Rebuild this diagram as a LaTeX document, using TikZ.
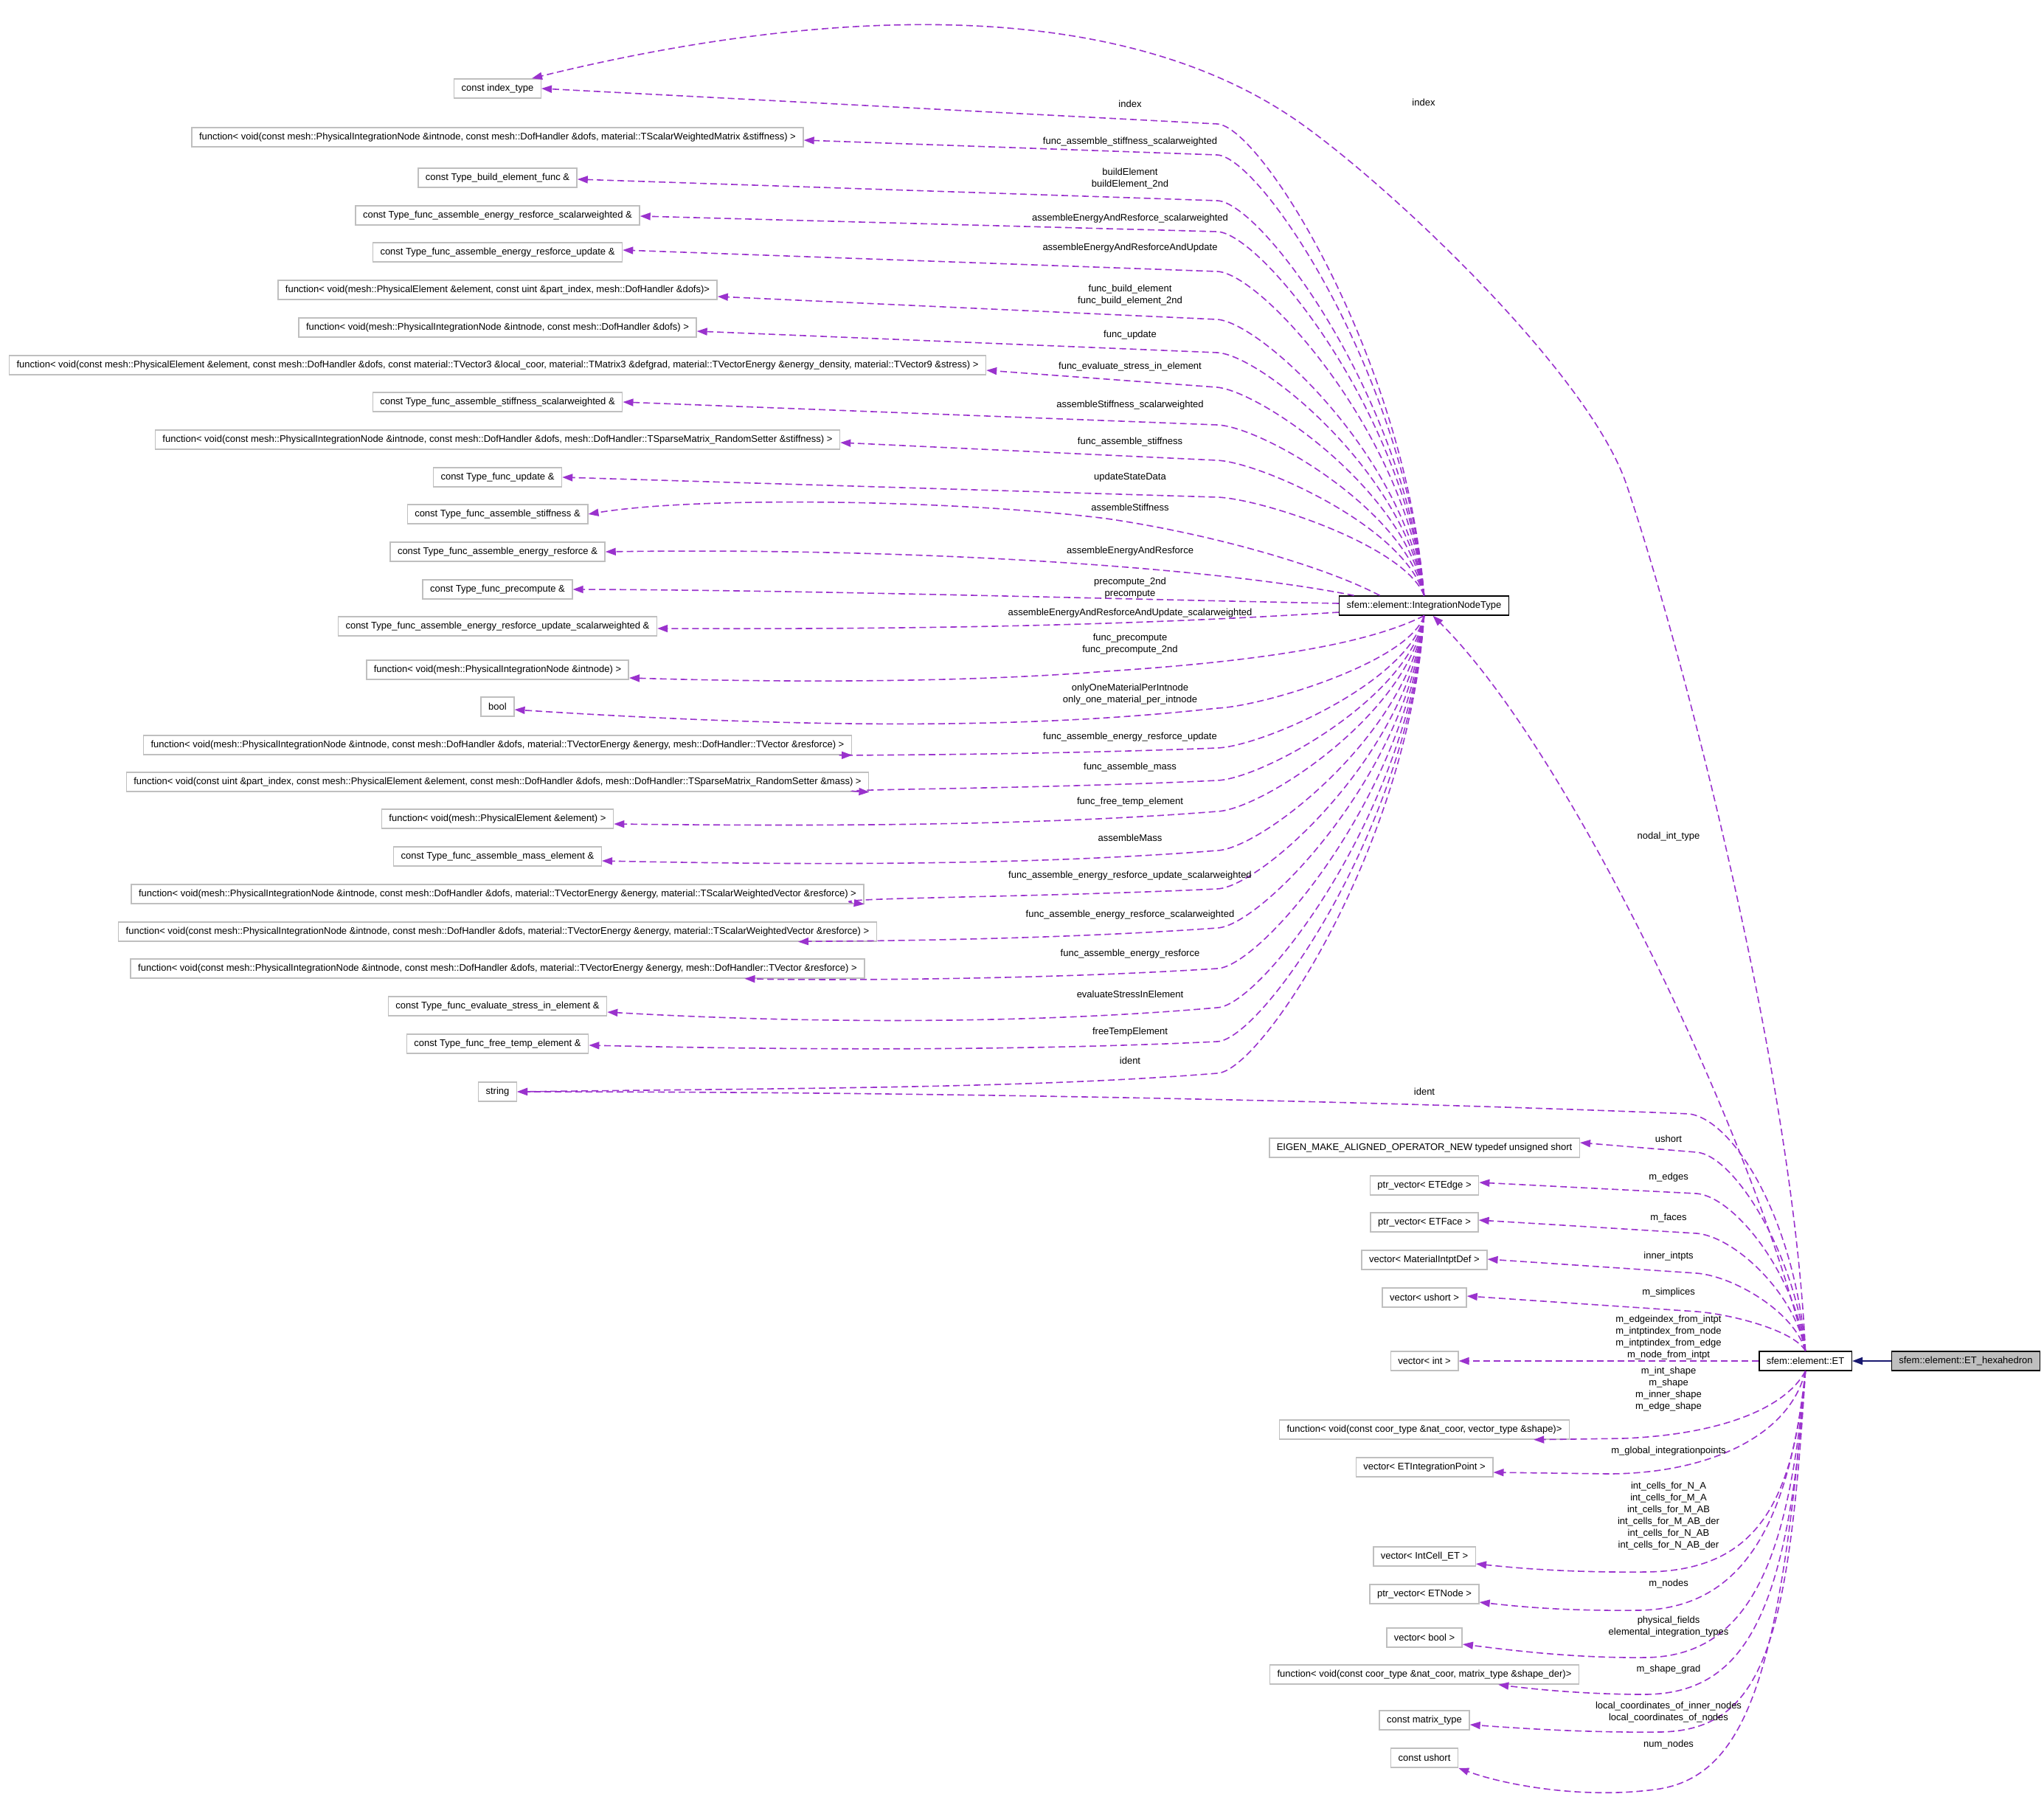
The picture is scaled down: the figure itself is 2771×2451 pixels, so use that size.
\documentclass[tikz,border=0pt]{standalone}
\usepackage{fontspec}
\setmainfont{Liberation Sans}
\usetikzlibrary{arrows.meta}
\definecolor{usecol}{HTML}{9A32CD}
\definecolor{boxgray}{HTML}{BFBFBF}
\definecolor{basegray}{HTML}{BFBFBF}
\definecolor{inhcol}{HTML}{191970}
\tikzset{
    typebox/.style={draw=boxgray, line width=1.5pt, fill=white, minimum height=26pt, inner xsep=10pt, inner ysep=0pt},
    classbox/.style={typebox, draw=black},
    basebox/.style={classbox, fill=basegray},
    member/.style={draw=usecol, line width=1.6pt, dash pattern=on 9pt off 5pt, -{Triangle[length=14pt,width=10pt]}},
    inheritarrow/.style={draw=inhcol, line width=2pt, -{Triangle[length=14pt,width=10pt]}},
    elabel/.style={inner sep=0pt, align=center}
}
\begin{document}
\begin{tikzpicture}[x=1pt,y=-1pt,font=\fontsize{13}{16}\selectfont]
            \useasboundingbox (0,0) rectangle (2771,2451);
            % classes
            \node[classbox] (int) at (1930.5,821) {sfem::element::IntegrationNodeType};
            \node[classbox] (et) at (2447.5,1845) {sfem::element::ET};
            \node[basebox] (hex) at (2665,1845) {sfem::element::ET\_hexahedron};
            % member types of IntegrationNodeType
            \node[typebox] (idx) at (674.5,120) {const index\_type};
            \node[typebox] (fSWM) at (674.5,186) {function< void(const mesh::PhysicalIntegrationNode \&intnode, const mesh::DofHandler \&dofs, material::TScalarWeightedMatrix \&stiffness) >};
            \node[typebox] (tBuild) at (674.5,241) {const Type\_build\_element\_func \&};
            \node[typebox] (tERsw) at (674.5,292) {const Type\_func\_assemble\_energy\_resforce\_scalarweighted \&};
            \node[typebox] (tERup) at (674.5,342) {const Type\_func\_assemble\_energy\_resforce\_update \&};
            \node[typebox] (fBuild) at (674.5,393) {function< void(mesh::PhysicalElement \&element, const uint \&part\_index, mesh::DofHandler \&dofs)>};
            \node[typebox] (fUpd) at (674.5,444) {function< void(mesh::PhysicalIntegrationNode \&intnode, const mesh::DofHandler \&dofs) >};
            \node[typebox] (fEval) at (674.5,495) {function< void(const mesh::PhysicalElement \&element, const mesh::DofHandler \&dofs, const material::TVector3 \&local\_coor, material::TMatrix3 \&defgrad, material::TVectorEnergy \&energy\_density, material::TVector9 \&stress) >};
            \node[typebox] (tKsw) at (674.5,545) {const Type\_func\_assemble\_stiffness\_scalarweighted \&};
            \node[typebox] (fK) at (674.5,596) {function< void(const mesh::PhysicalIntegrationNode \&intnode, const mesh::DofHandler \&dofs, mesh::DofHandler::TSparseMatrix\_RandomSetter \&stiffness) >};
            \node[typebox] (tUpd) at (674.5,647) {const Type\_func\_update \&};
            \node[typebox] (tK) at (674.5,697) {const Type\_func\_assemble\_stiffness \&};
            \node[typebox] (tER) at (674.5,748) {const Type\_func\_assemble\_energy\_resforce \&};
            \node[typebox] (tPre) at (674.5,799) {const Type\_func\_precompute \&};
            \node[typebox] (tERupsw) at (674.5,849) {const Type\_func\_assemble\_energy\_resforce\_update\_scalarweighted \&};
            \node[typebox] (fPre) at (674.5,908) {function< void(mesh::PhysicalIntegrationNode \&intnode) >};
            \node[typebox] (bool) at (674.5,958) {bool};
            \node[typebox] (fERup) at (674.5,1010) {function< void(mesh::PhysicalIntegrationNode \&intnode, const mesh::DofHandler \&dofs, material::TVectorEnergy \&energy, mesh::DofHandler::TVector \&resforce) >};
            \node[typebox] (fMass) at (674.5,1060) {function< void(const uint \&part\_index, const mesh::PhysicalElement \&element, const mesh::DofHandler \&dofs, mesh::DofHandler::TSparseMatrix\_RandomSetter \&mass) >};
            \node[typebox] (fFree) at (674.5,1110) {function< void(mesh::PhysicalElement \&element) >};
            \node[typebox] (tMass) at (674.5,1161) {const Type\_func\_assemble\_mass\_element \&};
            \node[typebox] (fERupsw) at (674.5,1212) {function< void(mesh::PhysicalIntegrationNode \&intnode, const mesh::DofHandler \&dofs, material::TVectorEnergy \&energy, material::TScalarWeightedVector \&resforce) >};
            \node[typebox] (fERsw) at (674.5,1263) {function< void(const mesh::PhysicalIntegrationNode \&intnode, const mesh::DofHandler \&dofs, material::TVectorEnergy \&energy, material::TScalarWeightedVector \&resforce) >};
            \node[typebox] (fER) at (674.5,1313) {function< void(const mesh::PhysicalIntegrationNode \&intnode, const mesh::DofHandler \&dofs, material::TVectorEnergy \&energy, mesh::DofHandler::TVector \&resforce) >};
            \node[typebox] (tEval) at (674.5,1364) {const Type\_func\_evaluate\_stress\_in\_element \&};
            \node[typebox] (tFree) at (674.5,1415) {const Type\_func\_free\_temp\_element \&};
            \node[typebox] (str) at (674.5,1480) {string};
            % member types of ET
            \node[typebox] (eigen) at (1931,1556) {EIGEN\_MAKE\_ALIGNED\_OPERATOR\_NEW typedef unsigned short};
            \node[typebox] (pvEdge) at (1931,1607) {ptr\_vector< ETEdge >};
            \node[typebox] (pvFace) at (1931,1657) {ptr\_vector< ETFace >};
            \node[typebox] (vMat) at (1931,1708) {vector< MaterialIntptDef >};
            \node[typebox] (vUshort) at (1931,1759) {vector< ushort >};
            \node[typebox] (vInt) at (1931,1845) {vector< int >};
            \node[typebox] (fShape) at (1931,1938) {function< void(const coor\_type \&nat\_coor, vector\_type \&shape)>};
            \node[typebox] (vIP) at (1931,1989) {vector< ETIntegrationPoint >};
            \node[typebox] (vCell) at (1931,2110) {vector< IntCell\_ET >};
            \node[typebox] (pvNode) at (1931,2161) {ptr\_vector< ETNode >};
            \node[typebox] (vBool) at (1931,2220) {vector< bool >};
            \node[typebox] (fDer) at (1931,2270) {function< void(const coor\_type \&nat\_coor, matrix\_type \&shape\_der)>};
            \node[typebox] (cMat) at (1931,2332) {const matrix\_type};
            \node[typebox] (cUshort) at (1931,2383) {const ushort};
            % IntegrationNodeType -> types above
            \foreach \tgt/\dy/\yb/\sl in {idx/0/168/3, fSWM/-4/210/3, tBuild/-2/272/2, tERsw/-1/314/2, tERup/3/368/2, fBuild/-9/433/4, fUpd/-5/478/3, fEval/-7/525/6, tKsw/0/576/2, fK/-4/624/3, tUpd/0/674/2} {
                \draw[member] (int.north) .. controls +(-25,{(\yb-808)/2}) and +(60,\sl) .. (1650,\yb) -- ([yshift=\dy pt]\tgt.east);
            }
            \draw[member] ([xshift=-60pt]int.north) .. controls (1800,770) and (1650,725) .. (1500,703) .. controls (1300,678) and (950,672) .. (tK.east);
            \draw[member] ([xshift=-95pt]int.north) .. controls (1650,770) and (1250,742) .. (tER.east);
            \draw[member] ([yshift=3pt]int.west) .. controls (1500,812) and (1100,800) .. (tPre.east);
            \draw[member] ([yshift=-9pt]int.west) .. controls (1500,850) and (1200,853) .. ([yshift=-3pt]tERupsw.east);
            \draw[member] (int.south) .. controls (1850,875) and (1700,897) .. (1500,910) .. controls (1300,926) and (1050,925) .. ([yshift=-11pt]fPre.east);
            % IntegrationNodeType -> types below
            \foreach \tgt/\anc/\dx/\dy/\yb/\dip in {bool/east/0/-4/960/28, fERup/south east/0/0/1014/10, fMass/south east/0/0/1058/12, fFree/east/0/-7/1100/20, tMass/east/0/-6/1153/20, fERupsw/south east/0/0/1205/12, fERsw/south east/-107/0/1258/18, fER/south east/-163/0/1313/16, tEval/east/0/-8/1366/22, tFree/east/0/-2/1412/12, str/east/0/0/1455/20} {
                \draw[member] (int.south) .. controls +(-20,{(\yb-834)/2}) and +(60,-2) .. (1650,\yb) .. controls (1400,{\yb+\dip}) and (1100,{\yb+\dip}) .. ([xshift=\dx pt,yshift=\dy pt]\tgt.\anc);
            }
            \foreach \y/\txt in {141/index, 192/func\_assemble\_stiffness\_scalarweighted, 242/buildElement\\buildElement\_2nd, 296/assembleEnergyAndResforce\_scalarweighted, 336/assembleEnergyAndResforceAndUpdate, 400/func\_build\_element\\func\_build\_element\_2nd, 454/func\_update, 497/func\_evaluate\_stress\_in\_element, 549/assembleStiffness\_scalarweighted, 599/func\_assemble\_stiffness, 647/updateStateData, 688/assembleStiffness, 747/assembleEnergyAndResforce, 797/precompute\_2nd\\precompute, 831/assembleEnergyAndResforceAndUpdate\_scalarweighted, 873/func\_precompute\\func\_precompute\_2nd, 941/onlyOneMaterialPerIntnode\\only\_one\_material\_per\_intnode, 999/func\_assemble\_energy\_resforce\_update, 1040/func\_assemble\_mass, 1087/func\_free\_temp\_element, 1136/assembleMass, 1187/func\_assemble\_energy\_resforce\_update\_scalarweighted, 1240/func\_assemble\_energy\_resforce\_scalarweighted, 1293/func\_assemble\_energy\_resforce, 1348/evaluateStressInElement, 1399/freeTempElement, 1438/ident} {
                \node[elabel] (lbl\y) at (1532,\y) {\txt};
            }
            % ET -> types
            \draw[member] (et.north) .. controls (2430,1450) and (2280,880) .. (2206,660) .. controls (2156,505) and (1870,238) .. (1750,158) .. controls (1450,-42) and (971,45) .. ([xshift=-13pt]idx.north east);
            \node[elabel] (etindex) at (1930,139) {index};
            \draw[member] (et.north) .. controls (2380,1550) and (2130,1020) .. ([xshift=12pt]int.south);
            \node[elabel] (etnodal) at (2262,1134) {nodal\_int\_type};
            \draw[member] (et.north) .. controls +(-15,-180) and +(60,8) .. (2290,1510) .. controls (1900,1494) and (1300,1480) .. (str.east);
            \node[elabel] (etident) at (1931,1480) {ident};
            \foreach \tgt/\dy/\yb in {eigen/7/1562, pvEdge/4/1618, pvFace/3/1672, vMat/1/1726, vUshort/2/1778} {
                \draw[member] (et.north) .. controls +(-15,{(\yb-1832)/2}) and +(50,4) .. (2300,\yb) -- ([yshift=\dy pt]\tgt.east);
            }
            \draw[member] (et.west) -- (vInt.east);
            \draw[member] (et.south) .. controls (2420,1910) and (2330,1945) .. (2200,1950) -- ([xshift=-49pt]fShape.south east);
            \draw[member] (et.south) .. controls (2425,1950) and (2310,1998) .. (2180,1998) -- ([yshift=-7pt]vIP.east);
            \draw[member] (et.south) .. controls (2430,2040) and (2380,2130) .. (2230,2131) .. controls (2120,2132) and (2050,2125) .. ([yshift=-10pt]vCell.east);
            \draw[member] (et.south) .. controls (2425,2070) and (2360,2182) .. (2220,2183) .. controls (2120,2184) and (2060,2178) .. ([yshift=-11pt]pvNode.east);
            \draw[member] (et.south) .. controls (2425,2120) and (2370,2246) .. (2230,2247) .. controls (2130,2248) and (2040,2236) .. ([yshift=-9pt]vBool.east);
            \draw[member] (et.south) .. controls (2425,2180) and (2370,2296) .. (2230,2297) .. controls (2150,2297) and (2080,2290) .. ([xshift=-110pt]fDer.south east);
            \draw[member] (et.south) .. controls (2425,2230) and (2390,2346) .. (2250,2348) .. controls (2150,2349) and (2060,2343) .. ([yshift=-6pt]cMat.east);
            \draw[member] (et.south) .. controls (2415,2260) and (2370,2405) .. (2250,2425) .. controls (2150,2440) and (2040,2420) .. (cUshort.south east);
            \foreach \y/\txt in {1544/ushort, 1596/m\_edges, 1651/m\_faces, 1703/inner\_intpts, 1752/m\_simplices, 1813/m\_edgeindex\_from\_intpt\\m\_intptindex\_from\_node\\m\_intptindex\_from\_edge\\m\_node\_from\_intpt, 1883/m\_int\_shape\\m\_shape\\m\_inner\_shape\\m\_edge\_shape, 1967/m\_global\_integrationpoints, 2055/int\_cells\_for\_N\_A\\int\_cells\_for\_M\_A\\int\_cells\_for\_M\_AB\\int\_cells\_for\_M\_AB\_der\\int\_cells\_for\_N\_AB\\int\_cells\_for\_N\_AB\_der, 2147/m\_nodes, 2205/physical\_fields\\elemental\_integration\_types, 2263/m\_shape\_grad, 2321/local\_coordinates\_of\_inner\_nodes\\local\_coordinates\_of\_nodes, 2365/num\_nodes} {
                \node[elabel] (elbl\y) at (2262,\y) {\txt};
            }
            % base class
            \draw[inheritarrow] (hex.west) -- (et.east);
        \end{tikzpicture}
\end{document}
